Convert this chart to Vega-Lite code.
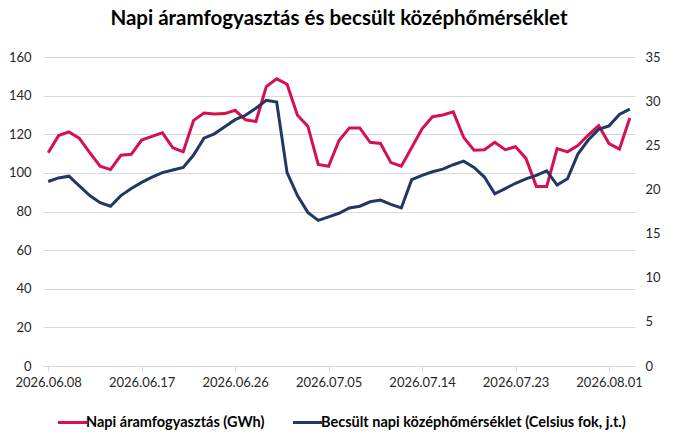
{
  "$schema": "https://vega.github.io/schema/vega-lite/v6.json",
  "width": 684,
  "height": 446,
  "autosize": {"type": "fit", "contains": "padding"},
  "padding": {"left": 8, "right": 23, "top": 8, "bottom": 57},
  "background": "white",
  "title": {
    "text": "Napi áramfogyasztás és becsült középhőmérséklet",
    "font": "Lato",
    "fontSize": 20.5,
    "fontWeight": "bold",
    "color": "#000000",
    "anchor": "middle",
    "offset": 22
  },
  "config": {
    "view": {"stroke": null},
    "font": "Lato",
    "axis": {"labelFont": "Lato", "labelFontSize": 13, "labelColor": "#262626"}
  },
  "data": {
    "values": [
      {"date": "2026-06-08", "fogy": 110.4, "hom": 20.9},
      {"date": "2026-06-09", "fogy": 119.3, "hom": 21.3},
      {"date": "2026-06-10", "fogy": 121.2, "hom": 21.5},
      {"date": "2026-06-11", "fogy": 117.9, "hom": 20.4},
      {"date": "2026-06-12", "fogy": 110.5, "hom": 19.3},
      {"date": "2026-06-13", "fogy": 103.5, "hom": 18.5},
      {"date": "2026-06-14", "fogy": 101.7, "hom": 18.1},
      {"date": "2026-06-15", "fogy": 109.1, "hom": 19.3},
      {"date": "2026-06-16", "fogy": 109.6, "hom": 20.1},
      {"date": "2026-06-17", "fogy": 117.0, "hom": 20.8},
      {"date": "2026-06-18", "fogy": 118.9, "hom": 21.4},
      {"date": "2026-06-19", "fogy": 120.7, "hom": 21.9},
      {"date": "2026-06-20", "fogy": 113.0, "hom": 22.2},
      {"date": "2026-06-21", "fogy": 110.9, "hom": 22.5},
      {"date": "2026-06-22", "fogy": 127.2, "hom": 23.9},
      {"date": "2026-06-23", "fogy": 131.0, "hom": 25.8},
      {"date": "2026-06-24", "fogy": 130.5, "hom": 26.3},
      {"date": "2026-06-25", "fogy": 130.7, "hom": 27.1},
      {"date": "2026-06-26", "fogy": 132.4, "hom": 27.9},
      {"date": "2026-06-27", "fogy": 127.5, "hom": 28.4},
      {"date": "2026-06-28", "fogy": 126.6, "hom": 29.2},
      {"date": "2026-06-29", "fogy": 144.7, "hom": 30.1},
      {"date": "2026-06-30", "fogy": 148.7, "hom": 29.9},
      {"date": "2026-07-01", "fogy": 145.9, "hom": 21.9},
      {"date": "2026-07-02", "fogy": 129.8, "hom": 19.3},
      {"date": "2026-07-03", "fogy": 124.2, "hom": 17.4},
      {"date": "2026-07-04", "fogy": 104.4, "hom": 16.5},
      {"date": "2026-07-05", "fogy": 103.4, "hom": 16.9},
      {"date": "2026-07-06", "fogy": 116.8, "hom": 17.3},
      {"date": "2026-07-07", "fogy": 123.3, "hom": 17.9},
      {"date": "2026-07-08", "fogy": 123.3, "hom": 18.1},
      {"date": "2026-07-09", "fogy": 115.8, "hom": 18.6},
      {"date": "2026-07-10", "fogy": 115.2, "hom": 18.8},
      {"date": "2026-07-11", "fogy": 105.3, "hom": 18.3},
      {"date": "2026-07-12", "fogy": 103.5, "hom": 17.9},
      {"date": "2026-07-13", "fogy": 113.1, "hom": 21.1},
      {"date": "2026-07-14", "fogy": 122.8, "hom": 21.6},
      {"date": "2026-07-15", "fogy": 129.1, "hom": 22.0},
      {"date": "2026-07-16", "fogy": 130.0, "hom": 22.3},
      {"date": "2026-07-17", "fogy": 131.6, "hom": 22.8},
      {"date": "2026-07-18", "fogy": 118.4, "hom": 23.2},
      {"date": "2026-07-19", "fogy": 111.7, "hom": 22.5},
      {"date": "2026-07-20", "fogy": 112.0, "hom": 21.4},
      {"date": "2026-07-21", "fogy": 115.8, "hom": 19.5},
      {"date": "2026-07-22", "fogy": 112.0, "hom": 20.1},
      {"date": "2026-07-23", "fogy": 113.5, "hom": 20.7},
      {"date": "2026-07-24", "fogy": 107.5, "hom": 21.2},
      {"date": "2026-07-25", "fogy": 93.0, "hom": 21.6},
      {"date": "2026-07-26", "fogy": 93.0, "hom": 22.1},
      {"date": "2026-07-27", "fogy": 112.6, "hom": 20.5},
      {"date": "2026-07-28", "fogy": 110.9, "hom": 21.2},
      {"date": "2026-07-29", "fogy": 114.2, "hom": 24.0},
      {"date": "2026-07-30", "fogy": 119.6, "hom": 25.6},
      {"date": "2026-07-31", "fogy": 124.5, "hom": 26.8},
      {"date": "2026-08-01", "fogy": 115.2, "hom": 27.2},
      {"date": "2026-08-02", "fogy": 112.3, "hom": 28.5},
      {"date": "2026-08-03", "fogy": 128.4, "hom": 29.1}
    ]
  },
  "encoding": {
    "x": {
      "field": "date",
      "type": "temporal",
      "title": null,
      "scale": {
        "type": "utc",
        "domain": [
          {"year": 2026, "month": 6, "date": 7, "hours": 12, "utc": true},
          {"year": 2026, "month": 8, "date": 3, "hours": 12, "utc": true}
        ]
      },
      "axis": {
        "values": [
          {"year": 2026, "month": 6, "date": 8, "utc": true},
          {"year": 2026, "month": 6, "date": 17, "utc": true},
          {"year": 2026, "month": 6, "date": 26, "utc": true},
          {"year": 2026, "month": 7, "date": 5, "utc": true},
          {"year": 2026, "month": 7, "date": 14, "utc": true},
          {"year": 2026, "month": 7, "date": 23, "utc": true},
          {"year": 2026, "month": 8, "date": 1, "utc": true}
        ],
        "labelExpr": "utcFormat(datum.value, '%Y.%m.%d')",
        "grid": false,
        "domainColor": "#D9D9D9",
        "tickColor": "#D9D9D9",
        "tickSize": 5,
        "labelPadding": 5,
        "labelFlush": false,
        "labelOverlap": false
      }
    },
    "color": {
      "scale": {
        "domain": [
          "Napi áramfogyasztás (GWh)",
          "Becsült napi középhőmérséklet (Celsius fok, j.t.)"
        ],
        "range": ["#D6104F", "#203864"]
      },
      "legend": {
        "title": null,
        "orient": "none",
        "legendX": 13,
        "legendY": 349,
        "direction": "horizontal",
        "symbolType": "stroke",
        "symbolStrokeWidth": 3,
        "symbolSize": 850,
        "labelFont": "Lato",
        "labelFontSize": 14.5,
        "labelFontWeight": "bold",
        "labelColor": "#000000",
        "labelLimit": 500,
        "labelOffset": -3,
        "columnPadding": 21
      }
    }
  },
  "layer": [
    {
      "mark": {"type": "line", "strokeWidth": 3, "strokeJoin": "miter"},
      "encoding": {
        "y": {
          "field": "fogy",
          "type": "quantitative",
          "title": null,
          "scale": {"domain": [0, 160], "nice": false},
          "axis": {
            "values": [0, 20, 40, 60, 80, 100, 120, 140, 160],
            "grid": true,
            "gridColor": "#D9D9D9",
            "domain": false,
            "ticks": false,
            "labelPadding": 12
          }
        },
        "color": {"datum": "Napi áramfogyasztás (GWh)"}
      }
    },
    {
      "mark": {"type": "line", "strokeWidth": 3, "strokeJoin": "miter"},
      "encoding": {
        "y": {
          "field": "hom",
          "type": "quantitative",
          "title": null,
          "scale": {"domain": [0, 35], "nice": false},
          "axis": {
            "orient": "right",
            "values": [0, 5, 10, 15, 20, 25, 30, 35],
            "grid": false,
            "domain": false,
            "ticks": false,
            "labelPadding": 10
          }
        },
        "color": {"datum": "Becsült napi középhőmérséklet (Celsius fok, j.t.)"}
      }
    }
  ],
  "resolve": {"scale": {"y": "independent"}}
}
